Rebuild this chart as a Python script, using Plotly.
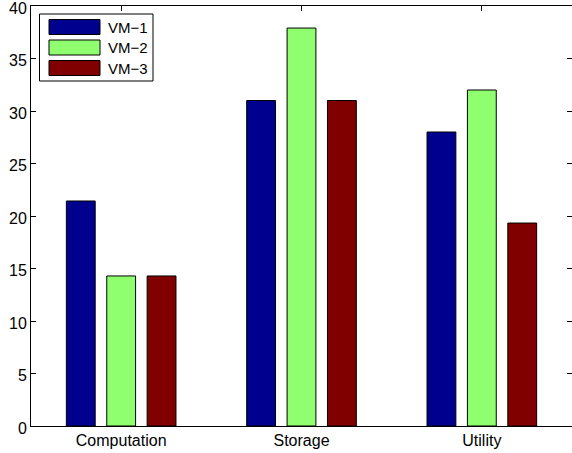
import plotly.graph_objects as go

categories = ["Computation", "Storage", "Utility"]
series_names = ["VM−1", "VM−2", "VM−3"]
vm1 = [21.43, 31.0, 28.0]
vm2 = [14.29, 37.9, 32.0]
vm3 = [14.29, 31.0, 19.33]
series_values = [vm1, vm2, vm3]
colors = ["rgb(0,0,143)", "rgb(143,255,112)", "rgb(128,0,0)"]
y_ticks = [0, 5, 10, 15, 20, 25, 30, 35, 40]

W, H = 572, 453
ML, MR, MT, MB = 31, 0, 6, 27
FONT = "Liberation Sans, Arial, Helvetica, sans-serif"

fig = go.Figure()
for name, vals, col in zip(series_names, series_values, colors):
    fig.add_trace(go.Bar(
        x=categories, y=vals, name=name,
        marker=dict(color=col, line=dict(color="black", width=1)),
        showlegend=False,
    ))

# invisible helper trace for right-side mirrored ticks (no right spine)
fig.add_trace(go.Scatter(x=categories, y=[0, 0, 0], yaxis="y2", mode="markers",
                         marker=dict(opacity=0), showlegend=False, hoverinfo="skip"))

# custom MATLAB-style legend (paper coords computed from pixel positions)
pw = W - ML - MR
ph = H - MT - MB
def px(x):
    return (x - ML) / pw
def py(y):
    return 1 - (y - MT) / ph

shapes = [dict(type="rect", xref="paper", yref="paper",
               x0=px(39.5), x1=px(153), y0=py(81), y1=py(14),
               line=dict(color="black", width=1), fillcolor="white", layer="above")]
annotations = []
row_tops = [19.5, 40, 60.5]
for i, (name, col) in enumerate(zip(series_names, colors)):
    t = row_tops[i]
    shapes.append(dict(type="rect", xref="paper", yref="paper",
                       x0=px(49), x1=px(100), y0=py(t + 15), y1=py(t),
                       line=dict(color="black", width=1), fillcolor=col, layer="above"))
    annotations.append(dict(xref="paper", yref="paper", x=px(106), y=py(t + 7.5),
                            text=name, showarrow=False, xanchor="left", yanchor="middle",
                            font=dict(family=FONT, size=15, color="black")))

fig.update_layout(
    width=W, height=H,
    margin=dict(l=ML, r=MR, t=MT, b=MB, pad=0),
    paper_bgcolor="white", plot_bgcolor="white",
    barmode="group", bargap=0.328, bargroupgap=0.286,
    font=dict(family=FONT, size=15, color="black"),
    shapes=shapes, annotations=annotations,
    xaxis=dict(
        type="category", range=[-0.5, 2.5],
        showline=True, linecolor="black", linewidth=1, mirror="ticks",
        ticks="inside", ticklen=5, tickcolor="black",
        showgrid=False, zeroline=False, layer="below traces",
        tickfont=dict(family=FONT, size=16, color="black"),
        automargin=False, ticklabeloverflow="allow",
    ),
    yaxis=dict(
        range=[0, 40], tickvals=y_ticks,
        showline=True, linecolor="black", linewidth=1,
        ticks="inside", ticklen=5, tickcolor="black",
        showgrid=False, zeroline=False,
        tickfont=dict(family=FONT, size=16, color="black"),
        automargin=False, ticklabeloverflow="allow", ticklabelshift=2,
    ),
    yaxis2=dict(
        overlaying="y", side="right", range=[0, 40], tickvals=y_ticks,
        showline=False, ticks="inside", ticklen=5, tickcolor="black",
        showticklabels=False, showgrid=False, zeroline=False,
        automargin=False,
    ),
)

fig.write_html("out.html", config={"displayModeBar": False},
               post_script="document.body.style.margin='0';document.body.style.overflow='hidden';")
